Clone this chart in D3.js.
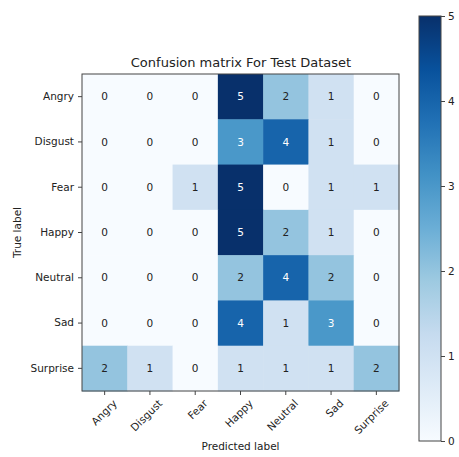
<!DOCTYPE html>
<html>
<head>
<meta charset="utf-8">
<script src="https://cdn.jsdelivr.net/npm/d3@7"></script>
<style>
  html, body { margin: 0; padding: 0; background: #fff; }
  svg { display: block; font-family: "DejaVu Sans", sans-serif; }
</style>
</head>
<body>
<svg id="chart" width="459" height="457"></svg>
<script>
// Emotion classes (rows: true label, columns: predicted label)
const labels = ["Angry", "Disgust", "Fear", "Happy", "Neutral", "Sad", "Surprise"];

// Confusion matrix counts, one array per true class
const angry    = [0, 0, 0, 5, 2, 1, 0];
const disgust  = [0, 0, 0, 3, 4, 1, 0];
const fear     = [0, 0, 1, 5, 0, 1, 1];
const happy    = [0, 0, 0, 5, 2, 1, 0];
const neutral  = [0, 0, 0, 2, 4, 2, 0];
const sad      = [0, 0, 0, 4, 1, 3, 0];
const surprise = [2, 1, 0, 1, 1, 1, 2];
const matrix = [angry, disgust, fear, happy, neutral, sad, surprise];

const colorTicks = [0, 1, 2, 3, 4, 5];

const svg = d3.select("#chart");

// Layout of the matrix and colour bar
const plot = { left: 82, top: 74, size: 317 };
const bar = { left: 419, top: 16, width: 22, height: 425 };

const maxVal = d3.max(matrix.flat());
const thresh = maxVal / 2;

// Blues colormap: piecewise-linear through the 9-class ColorBrewer ramp
const blues = d3.schemeBlues[9];
const color = d3.scaleLinear()
  .domain(d3.range(9).map(i => i / 8 * maxVal))
  .range(blues)
  .interpolate(d3.interpolateRgb);

const x = d3.scaleBand().domain(labels).range([plot.left, plot.left + plot.size]);
const y = d3.scaleBand().domain(labels).range([plot.top, plot.top + plot.size]);

const cells = [];
matrix.forEach((row, i) => row.forEach((v, j) => cells.push({ r: labels[i], c: labels[j], v })));

// Heatmap cells
svg.append("g").selectAll("rect").data(cells).join("rect")
  .attr("x", d => x(d.c))
  .attr("y", d => y(d.r))
  .attr("width", x.bandwidth() + 0.5)
  .attr("height", y.bandwidth() + 0.5)
  .attr("fill", d => color(d.v));

// Cell annotations
svg.append("g").selectAll("text").data(cells).join("text")
  .attr("x", d => x(d.c) + x.bandwidth() / 2)
  .attr("y", d => y(d.r) + y.bandwidth() / 2)
  .attr("dy", "0.35em")
  .attr("text-anchor", "middle")
  .attr("font-size", 10.5)
  .attr("fill", d => d.v > thresh ? "#fff" : "#222")
  .text(d => d.v);

// Frame
svg.append("rect")
  .attr("x", plot.left).attr("y", plot.top)
  .attr("width", plot.size).attr("height", plot.size)
  .attr("fill", "none").attr("stroke", "#444").attr("stroke-width", 1);

// Axes
const yAxis = svg.append("g")
  .attr("transform", `translate(${plot.left},0)`)
  .call(d3.axisLeft(y).tickSize(4).tickPadding(4));
const xAxis = svg.append("g")
  .attr("transform", `translate(0,${plot.top + plot.size})`)
  .call(d3.axisBottom(x).tickSize(4).tickPadding(3));

[xAxis, yAxis].forEach(g => {
  g.select(".domain").remove();
  g.selectAll(".tick line").attr("stroke", "#444");
  g.selectAll(".tick text").attr("font-size", 10.5).attr("fill", "#222")
    .attr("font-family", "DejaVu Sans, sans-serif");
});

xAxis.selectAll(".tick text")
  .attr("text-anchor", "end")
  .attr("dy", "0.55em")
  .attr("transform", "translate(4,4) rotate(-45)");

// Title and axis titles
svg.append("text")
  .attr("x", plot.left + plot.size / 2 + 0.5).attr("y", 67)
  .attr("text-anchor", "middle").attr("font-size", 13).attr("fill", "#222")
  .text("Confusion matrix For Test Dataset");

svg.append("text")
  .attr("x", plot.left + plot.size / 2).attr("y", 450)
  .attr("text-anchor", "middle").attr("font-size", 10.5).attr("fill", "#222")
  .text("Predicted label");

svg.append("text")
  .attr("transform", `translate(21,${plot.top + plot.size / 2}) rotate(-90)`)
  .attr("text-anchor", "middle").attr("font-size", 10.5).attr("fill", "#222")
  .text("True label");

// Colour bar
const defs = svg.append("defs");
const grad = defs.append("linearGradient").attr("id", "cbar")
  .attr("x1", 0).attr("y1", 1).attr("x2", 0).attr("y2", 0);
blues.forEach((c, i) => grad.append("stop").attr("offset", i / 8).attr("stop-color", c));

svg.append("rect")
  .attr("x", bar.left).attr("y", bar.top)
  .attr("width", bar.width).attr("height", bar.height)
  .attr("fill", "url(#cbar)").attr("stroke", "#444").attr("stroke-width", 1);

const cy = d3.scaleLinear().domain([0, maxVal]).range([bar.top + bar.height, bar.top]);
const cAxis = svg.append("g")
  .attr("transform", `translate(${bar.left + bar.width},0)`)
  .call(d3.axisRight(cy).tickValues(colorTicks).tickFormat(d3.format("d")).tickSize(4).tickPadding(3));
cAxis.select(".domain").remove();
cAxis.selectAll(".tick line").attr("stroke", "#444");
cAxis.selectAll(".tick text").attr("font-size", 10.5).attr("fill", "#222")
  .attr("font-family", "DejaVu Sans, sans-serif");
</script>
</body>
</html>
